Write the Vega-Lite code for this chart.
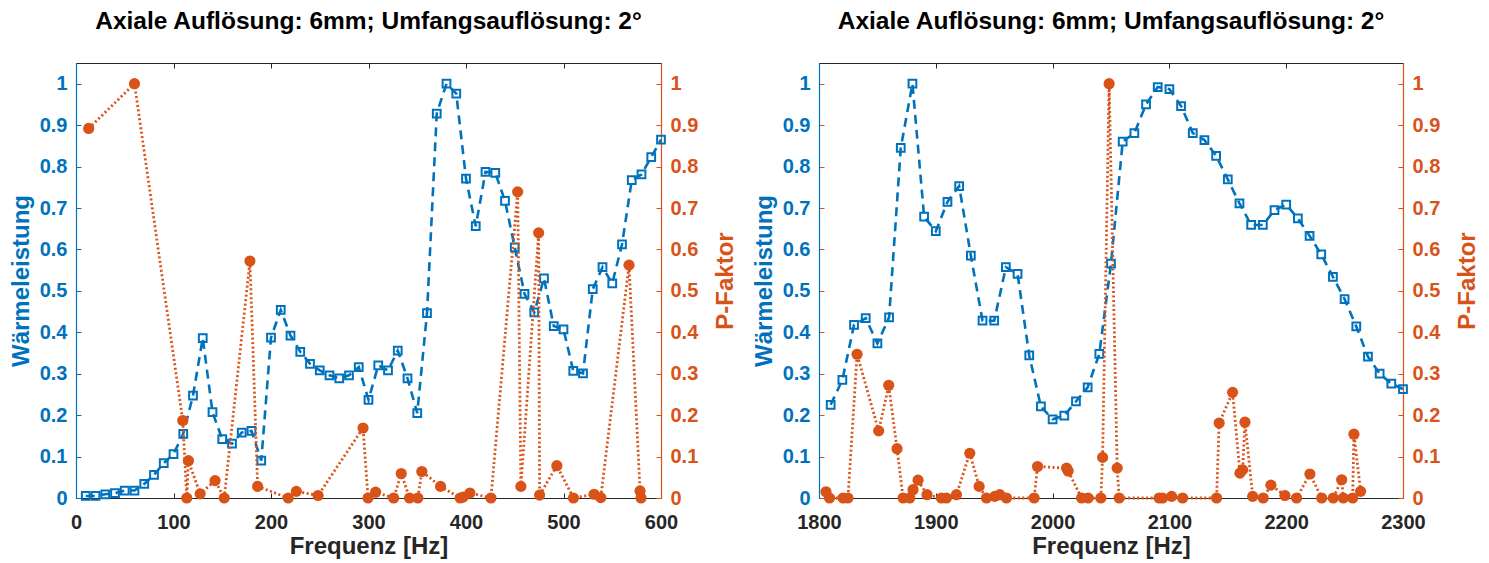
{
  "$schema": "https://vega.github.io/schema/vega-lite/v6.json",
  "padding": {"left": 8, "right": 0, "top": 8, "bottom": 0},
  "spacing": 12,
  "config": {
    "font": "Liberation Sans",
    "view": {"stroke": "#262626", "strokeWidth": 1},
    "axis": {"grid": false, "labelFont": "Liberation Sans", "titleFont": "Liberation Sans", "labelFontWeight": "bold", "titleFontWeight": "bold", "labelFontSize": 20, "titleFontSize": 24, "tickSize": -5, "labelFlush": false, "labelOverlap": false, "domainWidth": 1.2, "tickWidth": 1},
    "title": {"font": "Liberation Sans", "fontSize": 24.5, "fontWeight": "bold", "color": "#000000", "frame": "group", "anchor": "middle", "offset": 28}
  },
  "datasets": {
    "lw": [
      {"f":10,"w":0.005},{"f":20,"w":0.005},{"f":30,"w":0.009},{"f":40,"w":0.012},{"f":50,"w":0.018},{"f":60,"w":0.018},{"f":70,"w":0.034},{"f":80,"w":0.056},{"f":90,"w":0.084},{"f":100,"w":0.106},
      {"f":110,"w":0.155},{"f":120,"w":0.247},{"f":130,"w":0.386},{"f":140,"w":0.207},{"f":150,"w":0.142},{"f":160,"w":0.131},{"f":170,"w":0.158},{"f":180,"w":0.162},{"f":190,"w":0.09},{"f":200,"w":0.387},
      {"f":210,"w":0.454},{"f":220,"w":0.392},{"f":230,"w":0.353},{"f":240,"w":0.324},{"f":250,"w":0.308},{"f":260,"w":0.296},{"f":270,"w":0.289},{"f":280,"w":0.296},{"f":290,"w":0.316},{"f":300,"w":0.237},
      {"f":310,"w":0.32},{"f":320,"w":0.308},{"f":330,"w":0.356},{"f":340,"w":0.289},{"f":350,"w":0.205},{"f":360,"w":0.446},{"f":370,"w":0.928},{"f":380,"w":1.0},{"f":390,"w":0.976},{"f":400,"w":0.771},
      {"f":410,"w":0.656},{"f":420,"w":0.787},{"f":430,"w":0.785},{"f":440,"w":0.717},{"f":450,"w":0.605},{"f":460,"w":0.493},{"f":470,"w":0.448},{"f":480,"w":0.53},{"f":490,"w":0.415},{"f":500,"w":0.407},
      {"f":510,"w":0.307},{"f":520,"w":0.301},{"f":530,"w":0.504},{"f":540,"w":0.557},{"f":550,"w":0.518},{"f":560,"w":0.612},{"f":570,"w":0.767},{"f":580,"w":0.781},{"f":590,"w":0.823},{"f":600,"w":0.865}
    ],
    "lp": [
      {"f":13,"p":0.892},{"f":60,"p":1.0},{"f":109.5,"p":0.187},{"f":113.6,"p":0.0},{"f":115.3,"p":0.09},{"f":127.3,"p":0.01},{"f":142.6,"p":0.042},{"f":152,"p":0.0},{"f":178.4,"p":0.572},{"f":186.3,"p":0.028},
      {"f":217.7,"p":0.0},{"f":226,"p":0.016},{"f":248.3,"p":0.006},{"f":294.4,"p":0.169},{"f":299.5,"p":0.0},{"f":307.3,"p":0.014},{"f":325.8,"p":0.0},{"f":333.6,"p":0.059},{"f":342.1,"p":0.0},{"f":350.6,"p":0.0},
      {"f":354.7,"p":0.064},{"f":373.9,"p":0.028},{"f":394,"p":0.0},{"f":397,"p":0.002},{"f":404,"p":0.012},{"f":425.6,"p":0.0},{"f":453,"p":0.739},{"f":456.3,"p":0.028},{"f":474.5,"p":0.64},{"f":475.5,"p":0.007},
      {"f":493.2,"p":0.078},{"f":510.2,"p":0.0},{"f":531.4,"p":0.009},{"f":538.2,"p":0.001},{"f":567.2,"p":0.562},{"f":578.5,"p":0.017},{"f":579.5,"p":0.0}
    ],
    "rw": [
      {"f":1810,"w":0.225},{"f":1820,"w":0.285},{"f":1830,"w":0.418},{"f":1840,"w":0.434},{"f":1850,"w":0.373},{"f":1860,"w":0.436},{"f":1870,"w":0.845},{"f":1880,"w":1.0},{"f":1890,"w":0.679},{"f":1900,"w":0.644},
      {"f":1910,"w":0.715},{"f":1920,"w":0.753},{"f":1930,"w":0.585},{"f":1940,"w":0.428},{"f":1950,"w":0.428},{"f":1960,"w":0.557},{"f":1970,"w":0.541},{"f":1980,"w":0.344},{"f":1990,"w":0.221},{"f":2000,"w":0.19},
      {"f":2010,"w":0.199},{"f":2020,"w":0.233},{"f":2030,"w":0.267},{"f":2040,"w":0.348},{"f":2050,"w":0.566},{"f":2060,"w":0.86},{"f":2070,"w":0.881},{"f":2080,"w":0.95},{"f":2090,"w":0.992},{"f":2100,"w":0.987},
      {"f":2110,"w":0.946},{"f":2120,"w":0.881},{"f":2130,"w":0.864},{"f":2140,"w":0.826},{"f":2150,"w":0.769},{"f":2160,"w":0.711},{"f":2170,"w":0.659},{"f":2180,"w":0.659},{"f":2190,"w":0.695},{"f":2200,"w":0.708},
      {"f":2210,"w":0.675},{"f":2220,"w":0.633},{"f":2230,"w":0.588},{"f":2240,"w":0.534},{"f":2250,"w":0.48},{"f":2260,"w":0.414},{"f":2270,"w":0.341},{"f":2280,"w":0.3},{"f":2290,"w":0.276},{"f":2300,"w":0.263}
    ],
    "rp": [
      {"f":1806,"p":0.015},{"f":1809,"p":0.0},{"f":1820.6,"p":0.0},{"f":1824.8,"p":0.0},{"f":1832.6,"p":0.347},{"f":1851.1,"p":0.162},{"f":1859.7,"p":0.272},{"f":1866.8,"p":0.119},{"f":1872,"p":0.0},{"f":1877.7,"p":0.0},
      {"f":1880.5,"p":0.02},{"f":1884.8,"p":0.043},{"f":1892.5,"p":0.008},{"f":1904.8,"p":0.0},{"f":1909.1,"p":0.0},{"f":1917.7,"p":0.008},{"f":1929.1,"p":0.108},{"f":1937.1,"p":0.028},{"f":1943.4,"p":0.0},{"f":1950.5,"p":0.004},
      {"f":1954.8,"p":0.008},{"f":1960.5,"p":0.0},{"f":1984.2,"p":0.0},{"f":1987.1,"p":0.076},{"f":2012,"p":0.072},{"f":2013.3,"p":0.065},{"f":2024.8,"p":0.0},{"f":2030.4,"p":0.0},{"f":2041.3,"p":0.0},{"f":2042.8,"p":0.098},
      {"f":2048.4,"p":1.0},{"f":2055.3,"p":0.072},{"f":2057,"p":0.0},{"f":2091.2,"p":0.0},{"f":2094.2,"p":0.0},{"f":2101.9,"p":0.004},{"f":2111.3,"p":0.0},{"f":2140.4,"p":0.0},{"f":2142.6,"p":0.181},{"f":2154.1,"p":0.255},
      {"f":2160.4,"p":0.06},{"f":2162.7,"p":0.068},{"f":2164.7,"p":0.183},{"f":2171.3,"p":0.004},{"f":2180.3,"p":0.0},{"f":2186.9,"p":0.031},{"f":2198.9,"p":0.006},{"f":2208.9,"p":0.0},{"f":2220.3,"p":0.058},{"f":2230.4,"p":0.0},
      {"f":2240.3,"p":0.0},{"f":2247.5,"p":0.044},{"f":2248.9,"p":0.0},{"f":2256.9,"p":0.0},{"f":2258,"p":0.154},{"f":2263.7,"p":0.016}
    ]
  },
  "hconcat": [
    {
      "width": 585, "height": 435,
      "title": "Axiale Auflösung: 6mm; Umfangsauflösung: 2°",
      "layer": [
        {
          "data": {"name": "lw"},
          "encoding": {
            "x": {"field": "f", "type": "quantitative", "scale": {"domain": [0, 600], "nice": false},
                  "axis": {"orient": "bottom", "values": [0,100,200,300,400,500,600], "title": "Frequenz [Hz]", "labelColor": "#262626", "titleColor": "#262626", "domainColor": "#262626", "tickColor": "#262626", "labelPadding": 19, "titlePadding": 2}},
            "y": {"field": "w", "type": "quantitative", "scale": {"domain": [0, 1.05], "nice": false, "zero": false},
                  "axis": {"orient": "left", "values": [0,0.1,0.2,0.3,0.4,0.5,0.6,0.7,0.8,0.9,1], "format": ".1~f", "title": "Wärmeleistung", "labelColor": "#0072BD", "titleColor": "#0072BD", "domainColor": "#0072BD", "tickColor": "#0072BD", "labelPadding": 14, "titlePadding": 6}}
          },
          "layer": [
            {"mark": {"type": "line", "color": "#0072BD", "strokeWidth": 2.6, "strokeDash": [9, 6]}},
            {"mark": {"type": "point", "shape": "square", "filled": false, "size": 60, "strokeWidth": 2, "color": "#0072BD", "opacity": 1}}
          ]
        },
        {
          "data": {"name": "lp"},
          "encoding": {
            "x": {"field": "f", "type": "quantitative", "scale": {"domain": [0, 600], "nice": false},
                  "axis": {"orient": "top", "values": [0,100,200,300,400,500,600], "labels": false, "title": null, "domain": false, "tickColor": "#262626"}},
            "y": {"field": "p", "type": "quantitative", "scale": {"domain": [0, 1.05], "nice": false, "zero": false},
                  "axis": {"orient": "right", "values": [0,0.1,0.2,0.3,0.4,0.5,0.6,0.7,0.8,0.9,1], "format": ".1~f", "title": "P-Faktor", "titleAngle": 270, "titleBaseline": "top", "labelColor": "#D95319", "titleColor": "#D95319", "domainColor": "#D95319", "tickColor": "#D95319", "labelPadding": 14, "titlePadding": 16}}
          },
          "layer": [
            {"mark": {"type": "line", "color": "#D95319", "strokeWidth": 2.8, "strokeDash": [2, 2.5]}},
            {"mark": {"type": "circle", "size": 125, "color": "#D95319", "opacity": 1}}
          ]
        }
      ],
      "resolve": {"scale": {"y": "independent"}, "axis": {"x": "independent"}}
    },
    {
      "width": 584, "height": 435,
      "title": "Axiale Auflösung: 6mm; Umfangsauflösung: 2°",
      "layer": [
        {
          "data": {"name": "rw"},
          "encoding": {
            "x": {"field": "f", "type": "quantitative", "scale": {"domain": [1800, 2300], "nice": false, "zero": false},
                  "axis": {"orient": "bottom", "values": [1800,1900,2000,2100,2200,2300], "format": "d", "title": "Frequenz [Hz]", "labelColor": "#262626", "titleColor": "#262626", "domainColor": "#262626", "tickColor": "#262626", "labelPadding": 19, "titlePadding": 2}},
            "y": {"field": "w", "type": "quantitative", "scale": {"domain": [0, 1.05], "nice": false, "zero": false},
                  "axis": {"orient": "left", "values": [0,0.1,0.2,0.3,0.4,0.5,0.6,0.7,0.8,0.9,1], "format": ".1~f", "title": "Wärmeleistung", "labelColor": "#0072BD", "titleColor": "#0072BD", "domainColor": "#0072BD", "tickColor": "#D95319", "labelPadding": 14, "titlePadding": 6}}
          },
          "layer": [
            {"mark": {"type": "line", "color": "#0072BD", "strokeWidth": 2.6, "strokeDash": [9, 6]}},
            {"mark": {"type": "point", "shape": "square", "filled": false, "size": 60, "strokeWidth": 2, "color": "#0072BD", "opacity": 1}}
          ]
        },
        {
          "data": {"name": "rp"},
          "encoding": {
            "x": {"field": "f", "type": "quantitative", "scale": {"domain": [1800, 2300], "nice": false, "zero": false},
                  "axis": {"orient": "top", "values": [1800,1900,2000,2100,2200,2300], "labels": false, "title": null, "domain": false, "tickColor": "#262626"}},
            "y": {"field": "p", "type": "quantitative", "scale": {"domain": [0, 1.05], "nice": false, "zero": false},
                  "axis": {"orient": "right", "values": [0,0.1,0.2,0.3,0.4,0.5,0.6,0.7,0.8,0.9,1], "format": ".1~f", "title": "P-Faktor", "titleAngle": 270, "titleBaseline": "top", "labelColor": "#D95319", "titleColor": "#D95319", "domainColor": "#D95319", "tickColor": "#D95319", "labelPadding": 14, "titlePadding": 16}}
          },
          "layer": [
            {"mark": {"type": "line", "color": "#D95319", "strokeWidth": 2.8, "strokeDash": [2, 2.5]}},
            {"mark": {"type": "circle", "size": 125, "color": "#D95319", "opacity": 1}}
          ]
        }
      ],
      "resolve": {"scale": {"y": "independent"}, "axis": {"x": "independent"}}
    }
  ]
}
